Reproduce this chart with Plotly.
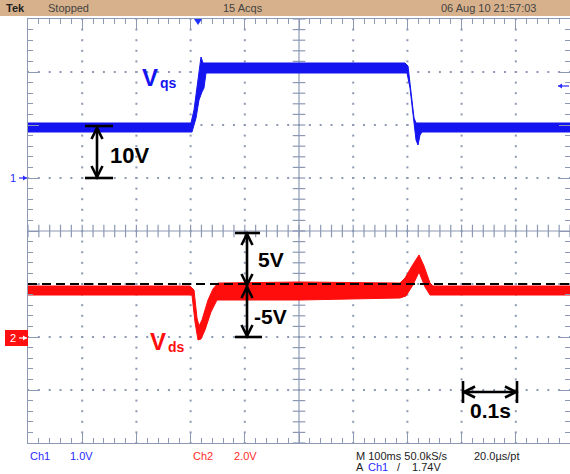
import plotly.graph_objects as go

# Channel 1 (Vqs, volts as annotated: 10 V/div) noise-band envelopes
ch1_upper_t = [-0.32, -0.0193, -0.0137, -0.0063, -0.0008, 0.0029, 0.3756, 0.3811, 0.3866, 0.3922, 0.3959, 0.68]
ch1_upper_v = [10.38, 10.38, 12.83, 18.49, 22.83, 21.70, 21.70, 21.13, 15.66, 11.32, 10.38, 10.38]
ch1_lower_t = [-0.32, -0.0174, -0.0100, -0.0045, 0.0010, 0.0047, 0.0084, 0.3793, 0.3848, 0.3903, 0.3959, 0.3996, 0.4033, 0.4070, 0.68]
ch1_lower_v = [8.68, 8.68, 11.32, 14.72, 16.23, 16.98, 19.81, 19.81, 16.98, 11.89, 7.17, 6.23, 8.11, 8.68, 8.68]

# Channel 2 (Vds, volts as annotated: 5 V/div) noise-band envelopes
ch2_upper_t = [-0.32, -0.0211, -0.0137, -0.0082, -0.0045, 0.0010, 0.0121, 0.0213, 0.0305, 0.1818, 0.3663, 0.3756, 0.3885, 0.4014, 0.4106, 0.4217, 0.4273, 0.68]
ch2_upper_v = [4.81, 4.81, 4.43, 1.79, 1.04, 1.60, 3.49, 4.53, 5.09, 5.19, 5.09, 5.57, 6.70, 7.74, 6.70, 5.09, 4.81, 4.81]
ch2_lower_t = [-0.32, -0.0174, -0.0119, -0.0063, -0.0008, 0.0066, 0.0176, 0.0287, 0.1818, 0.3663, 0.3774, 0.3903, 0.4014, 0.4125, 0.4217, 0.68]
ch2_lower_v = [3.96, 3.96, 1.42, -0.28, -0.19, 0.66, 2.36, 3.49, 3.49, 3.68, 3.87, 4.91, 6.13, 4.72, 3.96, 3.96]

ch1_volts_per_div = 10
ch2_volts_per_div = 5
ch1_offset_div = 1
ch2_offset_div = -2
ch2_ref_level = 5
ch1_trigger_level = 17.4
time_range = [-0.32, 0.68]
time_per_div = 0.1
n_xdiv, n_ydiv = 10, 8

top_texts = ["Tek", "Stopped", "15 Acqs", "06 Aug 10 21:57:03"]

# ---------------- styling ----------------
W, H = 570, 474
L, R, T, B = 28, 0, 19, 31
PW, PH = W - L - R, H - T - B
GRID = "#8c98b4"
BLUE = "#1414f0"
RED = "#ff0d0d"
FONT = "Liberation Sans, Arial, sans-serif"


def X(px):
    return (px - L) / PW


def Y(py):
    return (H - B - py) / PH


fig = go.Figure()

# dotted graticule
x_major = [time_range[0] + k * time_per_div for k in range(n_xdiv + 1)]
x_minor = [time_range[0] + k * time_per_div / 5 for k in range(n_xdiv * 5 + 1)]
y_major = [-n_ydiv / 2 + k for k in range(n_ydiv + 1)]
y_minor = [-n_ydiv / 2 + k * 0.2 for k in range(n_ydiv * 5 + 1)]
cx = x_major[n_xdiv // 2]
dx, dy = [], []
for xm in x_major[1:-1]:
    if abs(xm - cx) < 1e-9:
        continue
    for ym in y_minor:
        dx.append(xm)
        dy.append(ym)
for ym in y_major[1:-1]:
    if abs(ym) < 1e-9:
        continue
    for xm in x_minor:
        dx.append(xm)
        dy.append(ym)
fig.add_trace(go.Scatter(x=dx, y=dy, mode="markers", hoverinfo="skip",
                         marker=dict(symbol="square", size=2, color=GRID, line=dict(width=0))))
# center cross ticks
fig.add_trace(go.Scatter(x=x_minor, y=[0] * len(x_minor), mode="markers", hoverinfo="skip",
                         marker=dict(symbol="line-ns", size=9, line=dict(width=1.2, color=GRID))))
fig.add_trace(go.Scatter(x=[cx] * len(y_minor), y=y_minor, mode="markers", hoverinfo="skip",
                         marker=dict(symbol="line-ew", size=9, line=dict(width=1.2, color=GRID))))

# signals
fig.add_trace(go.Scatter(x=ch1_upper_t + ch1_lower_t[::-1], y=ch1_upper_v + ch1_lower_v[::-1],
                         fill="toself", fillcolor=BLUE, mode="lines", line=dict(color=BLUE, width=1),
                         yaxis="y2", hoverinfo="skip"))
fig.add_trace(go.Scatter(x=ch2_upper_t + ch2_lower_t[::-1], y=ch2_upper_v + ch2_lower_v[::-1],
                         fill="toself", fillcolor=RED, mode="lines", line=dict(color=RED, width=1),
                         yaxis="y3", hoverinfo="skip"))

shapes = []
# center lines
shapes.append(dict(type="line", xref="x", yref="paper", x0=cx, x1=cx, y0=0, y1=1,
                   line=dict(color=GRID, width=1.2), layer="below"))
shapes.append(dict(type="line", xref="paper", yref="y", x0=0, x1=1, y0=0, y1=0,
                   line=dict(color=GRID, width=1.2), layer="below"))
# reference dashed line on ch2
shapes.append(dict(type="line", xref="paper", yref="y3", x0=0, x1=1, y0=ch2_ref_level, y1=ch2_ref_level,
                   line=dict(color="black", width=2, dash="9px,5px")))
# top status bar
shapes.append(dict(type="rect", xref="paper", yref="paper", x0=X(0), x1=X(W), y0=Y(16), y1=Y(0),
                   fillcolor="#d7b18b", line=dict(width=0)))
# trigger position marker
shapes.append(dict(type="path", xref="paper", yref="paper",
                   path=f"M{X(194)},{Y(19)} L{X(202)},{Y(19)} L{X(198)},{Y(25)} Z",
                   fillcolor="#2030ff", line=dict(width=0)))
# ch2 ground marker box
shapes.append(dict(type="rect", xref="paper", yref="paper", x0=X(5), x1=X(28), y0=Y(346), y1=Y(330),
                   fillcolor="#ff1010", line=dict(width=0)))


def small_arrow(x_tail, x_tip, py, color):
    shapes.append(dict(type="line", xref="paper", yref="paper", x0=X(x_tail), x1=X(x_tip), y0=Y(py), y1=Y(py),
                       line=dict(color=color, width=1.2)))
    d = 1 if x_tip > x_tail else -1
    shapes.append(dict(type="path", xref="paper", yref="paper",
                       path=f"M{X(x_tip)},{Y(py)} L{X(x_tip - d * 4)},{Y(py - 2.5)} L{X(x_tip - d * 4)},{Y(py + 2.5)} Z",
                       fillcolor=color, line=dict(width=0)))


small_arrow(19, 27, 178, "#2a2aff")
small_arrow(19, 27, 338, "white")
small_arrow(569, 558, 86, "#2a2aff")

AW = 2.6


def seg(x0, y0, x1, y1):
    shapes.append(dict(type="line", xref="paper", yref="paper", x0=X(x0), y0=Y(y0), x1=X(x1), y1=Y(y1),
                       line=dict(color="black", width=AW)))


def chevron(px, py, d):
    if d == "up":
        pts = [(px - 5.5, py + 11), (px, py), (px + 5.5, py + 11)]
    elif d == "down":
        pts = [(px - 5.5, py - 11), (px, py), (px + 5.5, py - 11)]
    elif d == "left":
        pts = [(px + 11, py - 5.5), (px, py), (px + 11, py + 5.5)]
    else:
        pts = [(px - 11, py - 5.5), (px, py), (px - 11, py + 5.5)]
    path = "M" + " L".join(f"{X(a)},{Y(b)}" for a, b in pts)
    shapes.append(dict(type="path", xref="paper", yref="paper", path=path,
                       line=dict(color="black", width=AW)))


# 10V arrow
seg(97, 127, 97, 178)
seg(85, 126, 113, 126)
seg(85, 178, 113, 178)
chevron(97, 128, "up")
chevron(97, 177, "down")
# 5V / -5V arrows
seg(247, 233, 247, 337)
seg(235, 233, 260, 233)
seg(235, 337, 262, 337)
chevron(247, 234, "up")
chevron(247, 285, "down")
chevron(247, 287, "up")
chevron(247, 336, "down")
# 0.1s arrow
seg(463, 392, 517, 392)
seg(463, 381, 463, 403)
seg(517, 381, 517, 403)
chevron(464, 392, "left")
chevron(516, 392, "right")

ann = []


def txt(s, px, py, size, color="black", bold=False, xanchor="center", yanchor="middle"):
    if bold:
        s = f"<b>{s}</b>"
    ann.append(dict(text=s, x=X(px), y=Y(py), xref="paper", yref="paper", showarrow=False,
                    xanchor=xanchor, yanchor=yanchor, borderpad=0,
                    font=dict(family=FONT, size=size, color=color)))


txt("10V", 129, 156, 22, bold=True)
txt("5V", 271, 259, 21, bold=True)
txt("-5V", 270, 316, 21, bold=True)
txt("0.1s", 490, 410, 21, bold=True)
txt("V", 141, 77, 24, BLUE, True, xanchor="left")
txt("qs", 159, 83, 14, BLUE, True, xanchor="left")
txt("V", 149, 341, 24, RED, True, xanchor="left")
txt("ds", 167, 347, 14, RED, True, xanchor="left")

# top status bar texts
txt(top_texts[0], 5, 8, 11, "#222222", True, xanchor="left")
txt(top_texts[1], 47, 8, 11, "#444444", xanchor="left")
txt(top_texts[2], 222, 8, 11, "#444444", xanchor="left")
txt(top_texts[3], 440, 8, 11, "#444444", xanchor="left")

# bottom readouts
txt("Ch1", 29, 456, 11, "#2a2aff", xanchor="left")
txt("1.0V", 69, 456, 11, "#2a2aff", xanchor="left")
txt("Ch2", 192, 456, 11, "#ff2a2a", xanchor="left")
txt("2.0V", 233, 456, 11, "#ff2a2a", xanchor="left")
txt("M 100ms 50.0kS/s", 355, 456, 11, "#222222", xanchor="left")
txt("20.0µs/pt", 473, 456, 11, "#222222", xanchor="left")
txt("A", 355, 467, 11, "#222222", xanchor="left")
txt("Ch1", 367, 467, 11, "#2a2aff", xanchor="left")
txt("/", 396, 467, 11, "#222222", xanchor="left")
txt("1.74V", 411, 467, 11, "#222222", xanchor="left")

# channel markers
txt("1", 17, 178, 11, "#2a2aff", xanchor="right")
txt("2", 17, 338, 11, "white", xanchor="right")

axis_common = dict(showgrid=False, zeroline=False, showticklabels=False, ticks="inside",
                   tickcolor=GRID, tickwidth=1.2, ticklen=11, showline=True, linecolor=GRID,
                   linewidth=1.2, mirror="ticks", fixedrange=True)

fig.update_layout(
    width=W, height=H, autosize=False,
    margin=dict(l=L, r=R, t=T, b=B, pad=0),
    paper_bgcolor="white", plot_bgcolor="white",
    showlegend=False,
    xaxis=dict(range=time_range, tick0=time_range[0], dtick=time_per_div,
               minor=dict(dtick=time_per_div / 5, ticks="inside", ticklen=5, tickcolor=GRID, tickwidth=1.2),
               **axis_common),
    yaxis=dict(range=[-n_ydiv / 2, n_ydiv / 2], tick0=-n_ydiv / 2, dtick=1,
               minor=dict(dtick=0.2, ticks="inside", ticklen=5, tickcolor=GRID, tickwidth=1.2),
               **axis_common),
    yaxis2=dict(overlaying="y", visible=False, fixedrange=True,
                range=[(-n_ydiv / 2 - ch1_offset_div) * ch1_volts_per_div,
                       (n_ydiv / 2 - ch1_offset_div) * ch1_volts_per_div]),
    yaxis3=dict(overlaying="y", visible=False, fixedrange=True,
                range=[(-n_ydiv / 2 - ch2_offset_div) * ch2_volts_per_div,
                       (n_ydiv / 2 - ch2_offset_div) * ch2_volts_per_div]),
    shapes=shapes,
    annotations=ann,
)

fig.write_html("out.html", config={"displayModeBar": False})
